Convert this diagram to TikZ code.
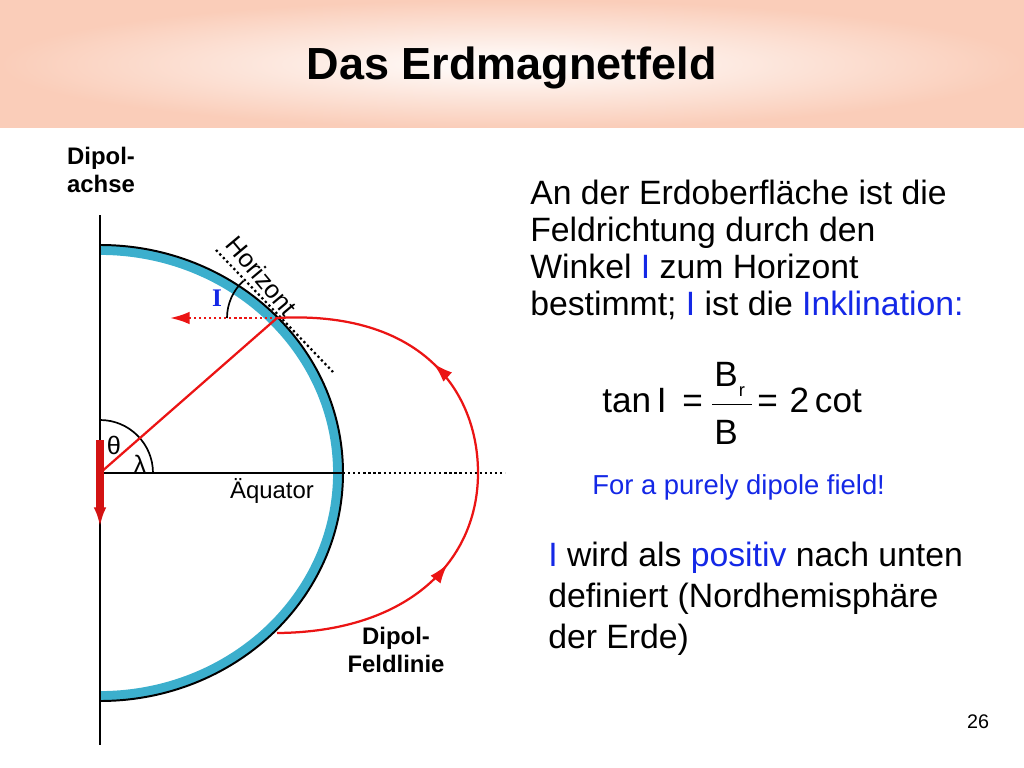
\documentclass[tikz,border=0pt]{standalone}
\usepackage{fontspec}
\setmainfont{Liberation Sans}
\usetikzlibrary{arrows.meta,decorations.markings}
\definecolor{earthblue}{RGB}{60,175,205}
\definecolor{headpeach}{RGB}{250,205,185}
\definecolor{textblue}{RGB}{20,40,230}
\definecolor{linered}{RGB}{235,20,20}
\begin{document}
\begin{tikzpicture}[x=0.025cm,y=-0.025cm,
    txt/.style={anchor=base west,inner sep=0pt,font=\fontsize{24}{28}\selectfont},
    fml/.style={font=\fontsize{25}{30}\selectfont},
    lbl/.style={font=\bfseries\fontsize{17}{20}\selectfont,align=center},
    fld/.style={linered,line width=1.6pt},
    arr/.style={-{Latex[length=14pt,width=9pt]}}]
  \useasboundingbox (0,0) rectangle (1024,768);
  % header
  \shade[inner color=white,outer color=headpeach] (0,0) rectangle (1024,128);
  \node[font=\bfseries\fontsize{32}{36}\selectfont] (title) at (512,68) {Das Erdmagnetfeld};
  % earth
  \coordinate (c) at (100,473);
  \coordinate (p) at (277,318);
  \coordinate (q) at (277,633);
  \draw[earthblue,line width=7pt] (100,250) arc[start angle=-90,end angle=90,x radius=238,y radius=223];
  \draw[line width=1.4pt] (100,245) arc[start angle=-90,end angle=90,x radius=243,y radius=228];
  \draw[line width=1.4pt] (100,215) -- (100,745);
  \draw[line width=1.4pt] (c) -- (343,473);
  \draw[line width=1.6pt,dotted] (343,473) -- (505,473);
  \draw[line width=1.6pt,dotted] (216,250) -- (333,372);
  \node[rotate=-50,font=\fontsize{18}{20}\selectfont] (hor) at (262,276) {Horizont};
  % angles
  \draw[line width=1.2pt] (100,420) arc[start angle=-90,end angle=0,radius=53];
  \node[font=\fontsize{18}{20}\selectfont] (theta) at (114,445) {θ};
  \node[font=\fontsize{18}{20}\selectfont] (lam) at (140,464) {λ};
  \draw[line width=1.2pt] (227,318) arc[start angle=180,end angle=228,radius=50];
  \node[font=\bfseries\fontsize{18}{20}\selectfont\fontspec{Liberation Serif},textblue] (incl) at (217,298) {I};
  % field
  \draw[fld] (c) -- (p);
  \draw[fld,dotted,arr] (p) -- (170,318);
  \draw[fld,decoration={markings,
      mark=at position 0.33 with {\arrow{Latex[length=14pt,width=9pt]}},
      mark=at position 0.71 with {\arrow{Latex[length=14pt,width=9pt]}}},postaction={decorate}]
    (q) .. controls (410,632) and (478,560) .. (478,473)
        .. controls (478,390) and (420,310) .. (p);
  \draw[linered!90!black,line width=6pt,arr] (100,440) -- (100,527);
  \node[font=\fontsize{17}{20}\selectfont] (aeq) at (272,491) {Äquator};
  \node[lbl] (achse) at (101,170) {Dipol-\\achse};
  \node[lbl] (feld) at (396,650) {Dipol-\\Feldlinie};
  % text
  \node[txt] (t1) at (530,204) {An der Erdoberfläche ist die};
  \node[txt] (t2) at (530,241) {Feldrichtung durch den};
  \node[txt] (t3) at (530,278) {Winkel {\color{textblue}I} zum Horizont};
  \node[txt] (t4) at (530,315) {bestimmt; {\color{textblue}I} ist die {\color{textblue}Inklination:}};
  % formula
  \node[fml,anchor=base west,inner sep=0pt] (f1) at (602,412) {tan\,I};
  \node[fml,anchor=base west,inner sep=0pt] (eq1) at (682,412) {=};
  \draw[line width=0.6pt] (712,404) -- (752,404);
  \node[fml] (bnum) at (726,374) {B};
  \node[font=\fontsize{13}{15}\selectfont] (br) at (742,392) {r};
  \node[fml] (bden) at (726,432) {B};
  \node[fml,anchor=base west,inner sep=0pt] (f2) at (757,412) {=\,\,2\,cot};
  \node[txt,font=\fontsize{19.5}{22}\selectfont,textblue] (pure) at (592,494) {For a purely dipole field!};
  \node[txt] (u1) at (548,566) {{\color{textblue}I} wird als {\color{textblue}positiv} nach unten};
  \node[txt] (u2) at (548,607) {definiert (Nordhemisphäre};
  \node[txt] (u3) at (548,648) {der Erde)};
  \node[font=\fontsize{14}{16}\selectfont] (page) at (978,722) {26};
\end{tikzpicture}
\end{document}
